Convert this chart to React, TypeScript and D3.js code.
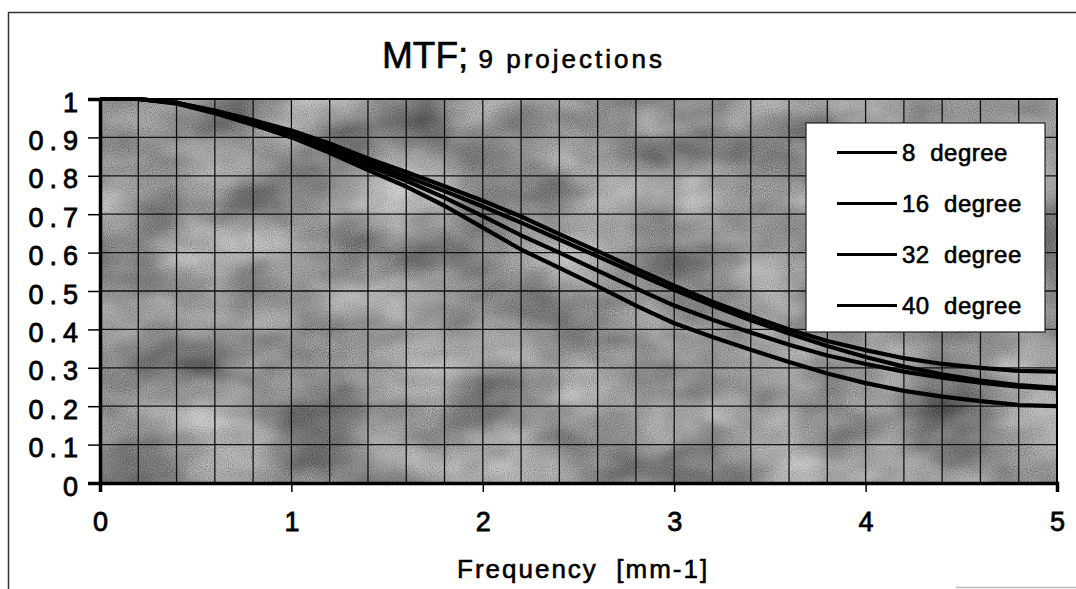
import React, { useRef, useEffect } from "react";
import * as d3 from "d3";

// sample frequencies (mm-1), one every 0.2
const freqs = [
  0, 0.2, 0.4, 0.6, 0.8, 1.0, 1.2, 1.4, 1.6, 1.8, 2.0, 2.2, 2.4, 2.6, 2.8, 3.0,
  3.2, 3.4, 3.6, 3.8, 4.0, 4.2, 4.4, 4.6, 4.8, 5.0,
];

const mtf8 = [
  1.0, 1.0, 0.99, 0.97, 0.945, 0.918, 0.884, 0.845, 0.81, 0.773, 0.735, 0.694,
  0.648, 0.604, 0.558, 0.514, 0.472, 0.435, 0.4, 0.37, 0.346, 0.325, 0.31, 0.3,
  0.292, 0.29,
];
const mtf16 = [
  1.0, 1.0, 0.99, 0.968, 0.942, 0.912, 0.877, 0.836, 0.798, 0.76, 0.72, 0.678,
  0.634, 0.59, 0.546, 0.503, 0.462, 0.424, 0.389, 0.357, 0.328, 0.303, 0.283,
  0.267, 0.255, 0.248,
];
const mtf32 = [
  1.0, 1.0, 0.99, 0.965, 0.937, 0.904, 0.868, 0.826, 0.787, 0.743, 0.695,
  0.645, 0.6, 0.553, 0.507, 0.462, 0.425, 0.392, 0.36, 0.332, 0.31, 0.29,
  0.274, 0.261, 0.251, 0.245,
];
const mtf40 = [
  1.0, 1.0, 0.988, 0.963, 0.933, 0.9, 0.86, 0.815, 0.772, 0.722, 0.665, 0.608,
  0.56, 0.512, 0.462, 0.416, 0.38, 0.347, 0.315, 0.285, 0.26, 0.24, 0.225,
  0.213, 0.203, 0.2,
];

const seriesNames = ["8  degree", "16  degree", "32  degree", "40  degree"];
const seriesValues = [mtf8, mtf16, mtf32, mtf40];

const yTicks = [0, 0.1, 0.2, 0.3, 0.4, 0.5, 0.6, 0.7, 0.8, 0.9, 1];
const xTicks = [0, 1, 2, 3, 4, 5];
const xGrid = freqs;

const W = 1076;
const H = 589;
const plot = { left: 100, right: 1057, top: 99, bottom: 483 };
const font = "'Liberation Sans', Arial, sans-serif";

const App: React.FC = () => {
  const svgRef = useRef<SVGSVGElement>(null);

  useEffect(() => {
    if (!svgRef.current) return;
    const svg = d3.select(svgRef.current);
    svg.selectAll("*").remove();

    const x = d3.scaleLinear().domain([0, 5]).range([plot.left, plot.right]);
    const y = d3.scaleLinear().domain([0, 1]).range([plot.bottom, plot.top]);

    // scanned halftone look for the plot background
    const defs = svg.append("defs");
    const filter = defs
      .append("filter")
      .attr("id", "tex")
      .attr("x", 0)
      .attr("y", 0)
      .attr("width", "100%")
      .attr("height", "100%")
      .attr("color-interpolation-filters", "sRGB");
    filter
      .append("feTurbulence")
      .attr("type", "fractalNoise")
      .attr("baseFrequency", "0.011 0.018")
      .attr("numOctaves", 3)
      .attr("seed", 4)
      .attr("result", "n1");
    filter
      .append("feTurbulence")
      .attr("type", "fractalNoise")
      .attr("baseFrequency", "0.95")
      .attr("numOctaves", 1)
      .attr("seed", 9)
      .attr("result", "n2");
    filter
      .append("feComposite")
      .attr("in", "n1")
      .attr("in2", "n2")
      .attr("operator", "arithmetic")
      .attr("k1", 0)
      .attr("k2", 0.75)
      .attr("k3", 0.45)
      .attr("k4", 0.1)
      .attr("result", "mix");
    filter
      .append("feColorMatrix")
      .attr("in", "mix")
      .attr("type", "matrix")
      .attr("values", "1 0 0 0 0  1 0 0 0 0  1 0 0 0 0  0 0 0 0 1");

    // outer frame
    svg
      .append("path")
      .attr("d", `M8.5,${H} V12.5 H${W}`)
      .attr("fill", "none")
      .attr("stroke", "#333")
      .attr("stroke-width", 1.5);
    svg
      .append("line")
      .attr("x1", 956)
      .attr("x2", W)
      .attr("y1", 587.5)
      .attr("y2", 587.5)
      .attr("stroke", "#bbb")
      .attr("stroke-width", 1.5);

    // title
    const title = svg
      .append("text")
      .attr("x", 382)
      .attr("y", 68)
      .attr("font-family", font)
      .attr("fill", "#000")
      .attr("stroke", "#000")
      .attr("stroke-width", 0.6)
      .attr("xml:space", "preserve");
    title.append("tspan").attr("font-size", 37).text("MTF;");
    title
      .append("tspan")
      .attr("font-size", 26)
      .attr("letter-spacing", 3)
      .text(" 9 projections");

    // plot background
    svg
      .append("rect")
      .attr("x", plot.left)
      .attr("y", plot.top)
      .attr("width", plot.right - plot.left)
      .attr("height", plot.bottom - plot.top)
      .attr("filter", "url(#tex)");

    // grid
    const grid = svg.append("g").attr("stroke", "#111").attr("stroke-width", 1.3);
    grid
      .selectAll("line.v")
      .data(xGrid)
      .join("line")
      .attr("class", "v")
      .attr("x1", (d) => x(d))
      .attr("x2", (d) => x(d))
      .attr("y1", plot.top)
      .attr("y2", plot.bottom);
    grid
      .selectAll("line.h")
      .data(yTicks)
      .join("line")
      .attr("class", "h")
      .attr("x1", plot.left)
      .attr("x2", plot.right)
      .attr("y1", (d) => y(d))
      .attr("y2", (d) => y(d));

    // curves
    const line = d3
      .line<number>()
      .x((_, i) => x(freqs[i]))
      .y((d) => y(d));
    svg
      .append("g")
      .selectAll("path")
      .data(seriesValues)
      .join("path")
      .attr("d", (d) => line(d))
      .attr("fill", "none")
      .attr("stroke", "#000")
      .attr("stroke-width", 4.2)
      .attr("stroke-linejoin", "round");

    // axes
    const yAxis = svg
      .append("g")
      .attr("transform", `translate(${plot.left},0)`)
      .call(
        d3
          .axisLeft(y)
          .tickValues(yTicks)
          .tickSize(12)
          .tickPadding(4)
          .tickFormat((d) => (d === 0 || d === 1 ? String(d) : (d as number).toFixed(1)))
      );
    yAxis.select(".domain").attr("stroke", "#000").attr("stroke-width", 3.5);
    yAxis.selectAll(".tick line").attr("stroke", "#000").attr("stroke-width", 1.5);
    yAxis
      .selectAll(".tick text")
      .attr("dy", "0.45em")
      .attr("letter-spacing", 6)
      .style("font-size", "27px")
      .style("font-family", font)
      .attr("fill", "#000")
      .attr("stroke", "#000")
      .attr("stroke-width", 0.8);

    const xAxis = svg
      .append("g")
      .attr("transform", `translate(0,${plot.bottom})`)
      .call(d3.axisBottom(x).tickValues(xTicks).tickSize(9).tickPadding(20).tickFormat(d3.format("d")));
    xAxis.select(".domain").attr("stroke", "#000").attr("stroke-width", 3.5);
    xAxis.selectAll(".tick line").attr("stroke", "#000").attr("stroke-width", 1.5);
    xAxis
      .selectAll(".tick text")
      .style("font-size", "27px")
      .style("font-family", font)
      .attr("fill", "#000")
      .attr("stroke", "#000")
      .attr("stroke-width", 0.8);

    // top and right plot border
    svg
      .append("path")
      .attr("d", `M${plot.left},${plot.top} H${plot.right} V${plot.bottom}`)
      .attr("fill", "none")
      .attr("stroke", "#000")
      .attr("stroke-width", 2);

    // x-axis title
    svg
      .append("text")
      .attr("x", 457)
      .attr("y", 578)
      .attr("font-family", font)
      .attr("font-size", 26)
      .attr("letter-spacing", 2)
      .attr("xml:space", "preserve")
      .attr("fill", "#000")
      .attr("stroke", "#000")
      .attr("stroke-width", 0.6)
      .text("Frequency  [mm-1]");

    // legend
    const lg = svg.append("g");
    lg.append("rect")
      .attr("x", 806)
      .attr("y", 123)
      .attr("width", 239)
      .attr("height", 209)
      .attr("fill", "#fff")
      .attr("stroke", "#222")
      .attr("stroke-width", 1.2);
    const rows = lg
      .selectAll("g.row")
      .data(seriesNames)
      .join("g")
      .attr("class", "row")
      .attr("transform", (_, i) => `translate(0,${161 + i * 51})`);
    rows
      .append("line")
      .attr("x1", 837)
      .attr("x2", 897)
      .attr("y1", -8.5)
      .attr("y2", -8.5)
      .attr("stroke", "#000")
      .attr("stroke-width", 3.2);
    rows
      .append("text")
      .attr("x", 902)
      .attr("y", 0)
      .attr("font-family", font)
      .attr("font-size", 24)
      .attr("letter-spacing", 0.5)
      .attr("xml:space", "preserve")
      .attr("fill", "#000")
      .attr("stroke", "#000")
      .attr("stroke-width", 0.6)
      .text((d) => d);
  }, []);

  return (
    <svg
      ref={svgRef}
      width={W}
      height={H}
      style={{ position: "absolute", left: 0, top: 0, background: "#fff" }}
    ></svg>
  );
};

export default App;
